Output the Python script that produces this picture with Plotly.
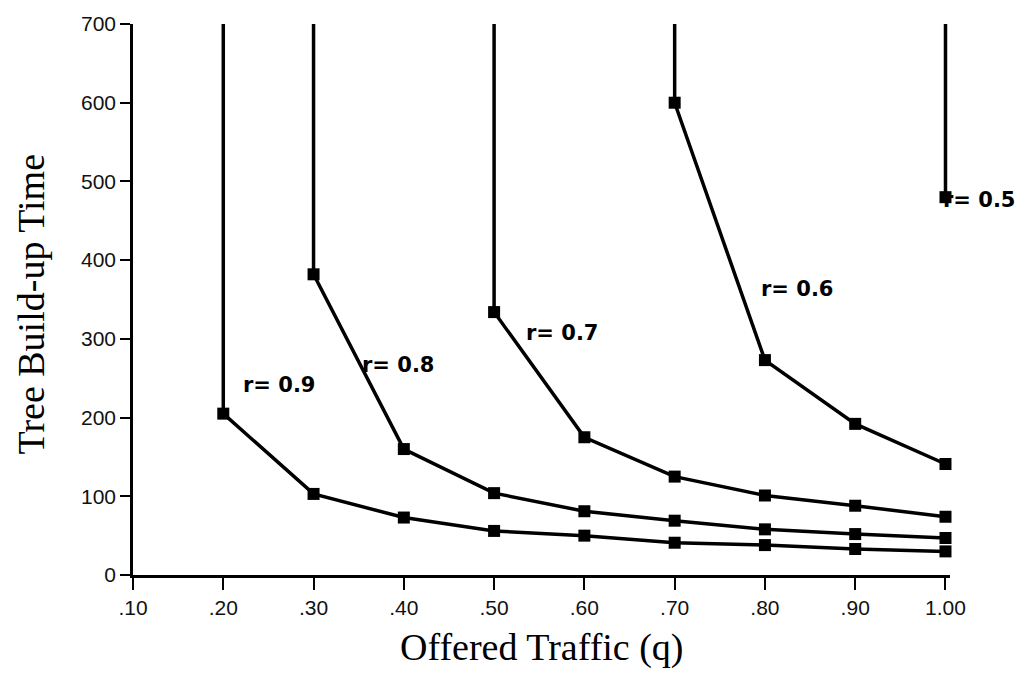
import plotly.graph_objects as go

# Offered traffic (q) at which each curve is sampled, and tree build-up times
q_r09 = [0.2, 0.3, 0.4, 0.5, 0.6, 0.7, 0.8, 0.9, 1.0]
time_r09 = [205, 103, 73, 56, 50, 41, 38, 33, 30]

q_r08 = [0.3, 0.4, 0.5, 0.6, 0.7, 0.8, 0.9, 1.0]
time_r08 = [382, 160, 104, 81, 69, 58, 52, 47]

q_r07 = [0.5, 0.6, 0.7, 0.8, 0.9, 1.0]
time_r07 = [334, 175, 125, 101, 88, 74]

q_r06 = [0.7, 0.8, 0.9, 1.0]
time_r06 = [600, 273, 192, 141]

q_r05 = [1.0]
time_r05 = [480]

series_labels = ["r= 0.9", "r= 0.8", "r= 0.7", "r= 0.6", "r= 0.5"]

# build-up time grows without bound below the first feasible q
asymptote_top = 700

x_tick_vals = [0.1, 0.2, 0.3, 0.4, 0.5, 0.6, 0.7, 0.8, 0.9, 1.0]
x_tick_text = [".10", ".20", ".30", ".40", ".50", ".60", ".70", ".80", ".90", "1.00"]
y_tick_vals = [0, 100, 200, 300, 400, 500, 600, 700]

# where each curve's label sits (q, time, horizontal anchor, pixel shift)
label_pos = [
    (0.262, 241, "center", 0),
    (0.393, 267, "center", 0),
    (0.575, 307, "center", 0),
    (0.835, 363, "center", 0),
    (1.0, 476, "left", -4),
]

series = [
    (q_r09, time_r09),
    (q_r08, time_r08),
    (q_r07, time_r07),
    (q_r06, time_r06),
    (q_r05, time_r05),
]

fig = go.Figure()
for qs, ts in series:
    # vertical asymptote leading into the first point
    fig.add_trace(go.Scatter(
        x=[qs[0], qs[0]], y=[asymptote_top, ts[0]],
        mode="lines", line=dict(color="black", width=3.5),
        showlegend=False, hoverinfo="skip", cliponaxis=False,
    ))
    fig.add_trace(go.Scatter(
        x=qs, y=ts, mode="lines+markers",
        line=dict(color="black", width=3.5),
        marker=dict(symbol="square", size=12, color="black"),
        showlegend=False, cliponaxis=False,
    ))

annotations = []
for text, (qx, ty, anchor, shift) in zip(series_labels, label_pos):
    annotations.append(dict(
        x=qx, y=ty, xref="x", yref="y", text=text, showarrow=False,
        xanchor=anchor, yanchor="middle", xshift=shift,
        font=dict(family="DejaVu Sans", size=21, color="black", weight="bold"),
    ))

annotations.append(dict(
    x=0.5, y=0, xref="paper", yref="paper", text="Offered Traffic (q)",
    showarrow=False, xanchor="center", yanchor="middle", yshift=-72,
    font=dict(family="Liberation Serif", size=38, color="black"),
))
annotations.append(dict(
    x=0, y=0.5, xref="paper", yref="paper", text="Tree Build-up Time",
    showarrow=False, xanchor="center", yanchor="middle", textangle=-90,
    xshift=-103, yshift=-5,
    font=dict(family="Liberation Serif", size=38, color="black"),
))

axis_common = dict(
    showline=True, linecolor="black", linewidth=2.5,
    ticks="outside", tickcolor="black", tickwidth=2,
    showgrid=False, zeroline=False,
    tickfont=dict(family="Liberation Sans", size=21, color="#111"),
)

fig.update_layout(
    width=1025, height=682,
    margin=dict(l=133, r=75, t=24, b=107),
    paper_bgcolor="white", plot_bgcolor="white",
    xaxis=dict(range=[0.1, 1.005], tickvals=x_tick_vals, ticktext=x_tick_text,
               ticklen=12, **axis_common),
    yaxis=dict(range=[0, 700], tickvals=y_tick_vals, ticklen=10, **axis_common),
    annotations=annotations,
)

fig.write_html("out.html")
